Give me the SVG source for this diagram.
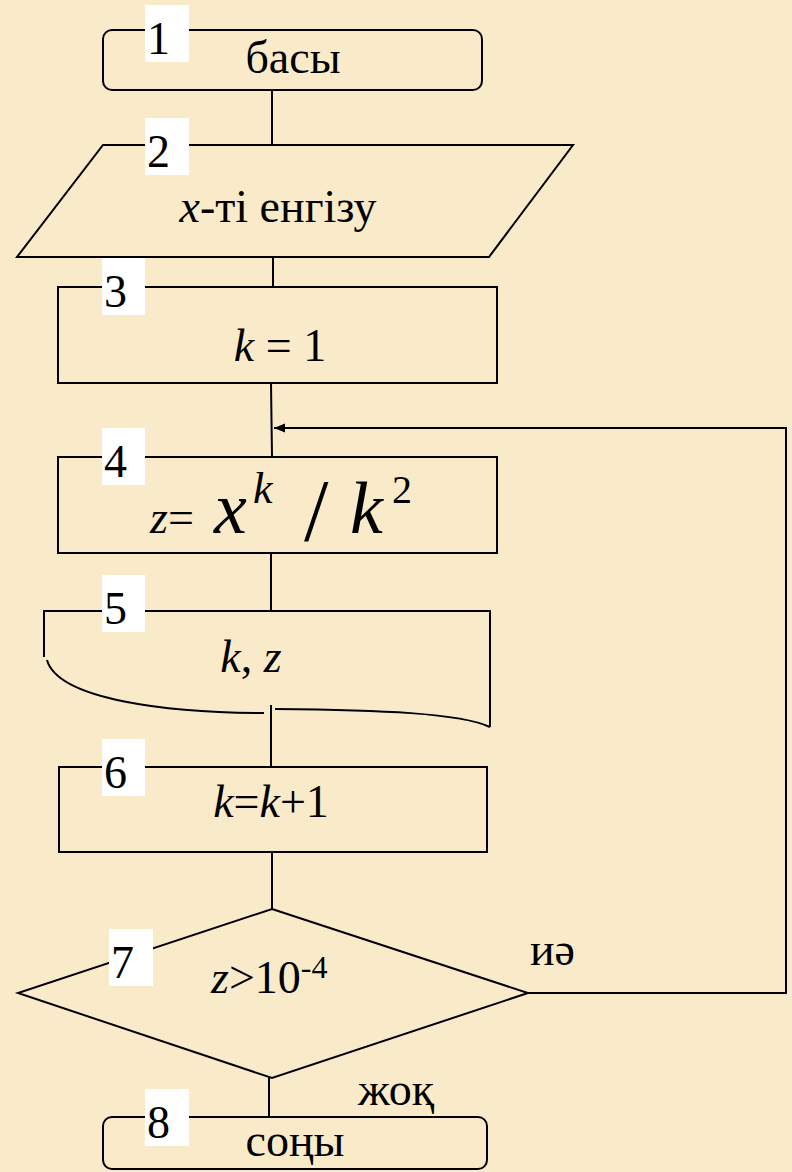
<svg xmlns="http://www.w3.org/2000/svg" width="792" height="1172" viewBox="0 0 792 1172">
<style>
.shape{fill:none;stroke:#000;stroke-width:2}
.conn{fill:none;stroke:#000;stroke-width:2}
.lbl{fill:#fff;stroke:none}
.num{font-family:'Liberation Serif','Times New Roman',serif;font-size:46px;fill:#000}
.t{font-family:'Liberation Serif','Times New Roman',serif;font-size:46px;fill:#000}
.i{font-style:italic}
</style>
<defs>
<marker id="arr" markerWidth="12" markerHeight="10" refX="11" refY="4.5" orient="auto" markerUnits="userSpaceOnUse">
<path d="M0,0 L11,4.5 L0,9 Z" fill="#000"/>
</marker>
</defs>
<rect x="0" y="0" width="792" height="1172" fill="#F9EBCA"/>
<g id="connectors">
<path class="conn" d="M272,90 V145"/>
<path class="conn" d="M273,257 V287"/>
<path class="conn" d="M271,383 L272,457"/>
<path class="conn" d="M271,553 V612"/>
<path class="conn" d="M271,705 V767"/>
<path class="conn" d="M272,852 V909"/>
<path class="conn" d="M269,1078 V1117"/>
<path class="conn" d="M528,993 H786 V428 H274" marker-end="url(#arr)"/>
</g>
<g id="node1">
<rect class="shape" x="103" y="30" width="379" height="60" rx="9"/>
<rect class="lbl" x="145" y="5" width="44" height="57"/>
<text class="num" x="147" y="54">1</text>
<text class="t" x="293" y="73" text-anchor="middle">басы</text>
</g>
<g id="node2">
<path class="shape" d="M103,145 H573 L489,257 H17 Z"/>
<rect class="lbl" x="145" y="118" width="44" height="57"/>
<text class="num" x="147" y="167">2</text>
<text class="t" x="278" y="222" text-anchor="middle"><tspan class="i">x</tspan>-ті енгізу</text>
</g>
<g id="node3">
<rect class="shape" x="58" y="287" width="439" height="96"/>
<rect class="lbl" x="102" y="258" width="43" height="57"/>
<text class="num" x="104" y="307">3</text>
<text class="t" x="280" y="361" text-anchor="middle"><tspan class="i">k</tspan> = 1</text>
</g>
<g id="node4">
<rect class="shape" x="58" y="457" width="439" height="96"/>
<rect class="lbl" x="102" y="428" width="43" height="57"/>
<text class="num" x="104" y="477">4</text>
<text class="t" y="533"><tspan x="150" class="i">z</tspan><tspan>=</tspan><tspan x="214" class="i" font-size="74">x</tspan><tspan x="253" y="503" class="i" font-size="44">k</tspan><tspan x="304" y="540" font-size="88">/</tspan><tspan x="350" y="533" class="i" font-size="74">k</tspan><tspan x="392" y="503" font-size="40">2</tspan></text>
</g>
<g id="node5">
<path class="shape" d="M44,657 V611 H490 V727"/>
<path class="shape" d="M47,660 C58,700 170,713 264,713"/>
<path class="shape" d="M275,709 C380,710 460,713 490,727"/>
<rect class="lbl" x="102" y="575" width="43" height="57"/>
<text class="num" x="104" y="624">5</text>
<text class="t" x="251" y="672" text-anchor="middle"><tspan class="i">k</tspan>, <tspan class="i">z</tspan></text>
</g>
<g id="node6">
<rect class="shape" x="59" y="767" width="428" height="85" stroke-width="1.6"/>
<rect class="lbl" x="102" y="739" width="43" height="57"/>
<text class="num" x="104" y="788">6</text>
<text class="t" x="271" y="817" text-anchor="middle" font-size="48"><tspan class="i">k</tspan>=<tspan class="i">k</tspan>+1</text>
</g>
<g id="node7">
<path class="shape" d="M272,909 L528,993 L272,1078 L18,993 Z"/>
<rect class="lbl" x="109" y="929" width="44" height="57"/>
<text class="num" x="111" y="978">7</text>
<text class="t" y="993"><tspan x="211" class="i">z</tspan><tspan>&gt;10</tspan><tspan y="978" font-size="32">-4</tspan></text>
<text class="t" x="530" y="965">иә</text>
</g>
<g id="node8">
<rect class="shape" x="103" y="1117" width="384" height="52" rx="9"/>
<rect class="lbl" x="145" y="1089" width="44" height="57"/>
<text class="num" x="147" y="1138">8</text>
<text class="t" x="358" y="1105">жоқ</text>
<text class="t" x="295" y="1156" text-anchor="middle">соңы</text>
</g>
</svg>
